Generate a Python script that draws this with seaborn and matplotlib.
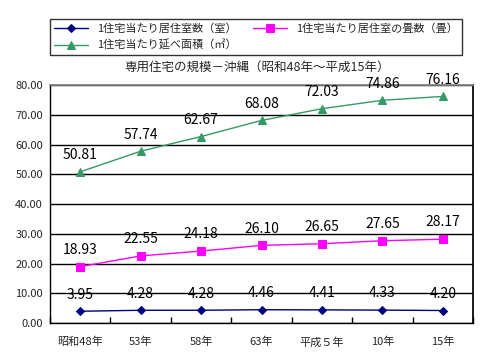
import matplotlib
matplotlib.use("Agg")
import matplotlib.pyplot as plt
import seaborn as sns
import pandas as pd

categories = ["昭和48年", "53年", "58年", "63年", "平成５年", "10年", "15年"]
rooms = [3.95, 4.28, 4.28, 4.46, 4.41, 4.33, 4.20]
tatami = [18.93, 22.55, 24.18, 26.10, 26.65, 27.65, 28.17]
floor_area = [50.81, 57.74, 62.67, 68.08, 72.03, 74.86, 76.16]
series_names = ["1住宅当たり居住室数（室）", "1住宅当たり居住室の畳数（畳）", "1住宅当たり延べ面積（㎡）"]
title = "専用住宅の規模－沖縄（昭和48年～平成15年）"

sns.set_theme(style="white")
plt.rcParams['font.family'] = ['Noto Sans CJK JP', 'DejaVu Sans']

fig = plt.figure(figsize=(5.02, 3.56), dpi=100)
ax = fig.add_axes([50/502, 1-323/356, 423/502, 238/356])

x = list(range(len(categories)))
specs = [
    (rooms, "#000080", "D", 4),
    (tatami, "#FF00FF", "s", 5.5),
    (floor_area, "#339966", "^", 6),
]
for name, (vals, col, mk, ms) in zip(series_names, specs):
    df = pd.DataFrame({"x": x, "y": vals})
    sns.lineplot(data=df, x="x", y="y", ax=ax, color=col, marker=mk,
                 markersize=ms, markeredgecolor=col, linewidth=1.0, label=name,
                 legend=False)
    for xi, v in zip(x, vals):
        ax.annotate(f"{v:.2f}", (xi, v), xytext=(0, 7), textcoords="offset points",
                    ha="center", va="bottom", fontsize=10, color="black")

ax.set_xlim(-0.5, len(categories) - 0.5)
ax.set_ylim(0, 80)
ax.set_yticks(range(0, 81, 10))
ax.set_yticklabels([f"{v:.2f}" for v in range(0, 81, 10)], fontsize=8)
ax.set_xticks(x)
ax.set_xticklabels(categories, fontsize=8)
ax.set_xticks([i + 0.5 for i in range(-1, len(categories))], minor=True)
ax.tick_params(axis="x", which="major", length=0, pad=10)
ax.tick_params(axis="x", which="minor", length=4, color="black", direction="in", bottom=True)
ax.tick_params(axis="y", length=0, pad=5)
ax.set_xlabel("")
ax.set_ylabel("")
ax.grid(axis="y", color="black", linewidth=1.0)
ax.grid(axis="x", visible=False)
for s in ["left", "bottom"]:
    ax.spines[s].set_color("black")
    ax.spines[s].set_linewidth(1.0)
ax.spines["top"].set_color("#808080")
ax.spines["right"].set_color("black")

fig.text(257/502, 1-67/356, title, ha="center", va="center", fontsize=9)

h, l = ax.get_legend_handles_labels()
order = [0, 2, 1]
leg = fig.legend([h[i] for i in order], [l[i] for i in order], loc="lower left",
                 bbox_to_anchor=(50/502, 1-55/356, 412/502, 43/356),
                 mode="expand", ncol=2, fontsize=8, frameon=True, fancybox=False,
                 borderaxespad=0, handlelength=3, columnspacing=2, labelspacing=0.5)
leg.get_frame().set_edgecolor("black")
leg.get_frame().set_linewidth(1.0)

fig.savefig("out.png", dpi=100)
